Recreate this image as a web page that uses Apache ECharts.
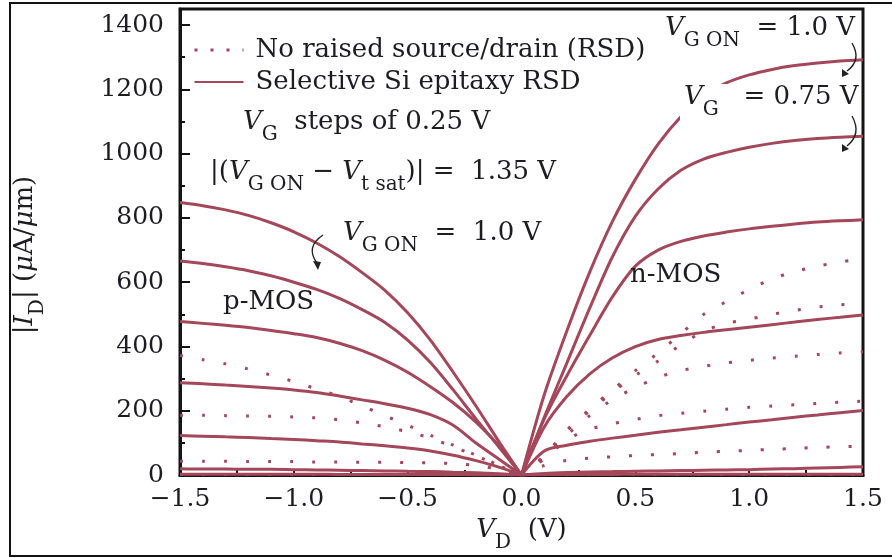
<!DOCTYPE html>
<html>
<head>
<meta charset="utf-8">
<script src="https://cdn.jsdelivr.net/npm/echarts@6/dist/echarts.min.js"></script>
<style>
  html, body { margin: 0; padding: 0; background: #fff; }
  #chart { width: 892px; height: 558px; }
</style>
</head>
<body>
<div id="chart"></div>
<script>
// Drain voltage samples (V)
const VD_P = [-1.5, -1.4, -1.3, -1.2, -1.1, -1.0, -0.9, -0.8, -0.7, -0.6, -0.5, -0.4, -0.3, -0.2, -0.1, 0];
const VD_N = [0, 0.1, 0.2, 0.3, 0.4, 0.5, 0.6, 0.7, 0.8, 0.9, 1.0, 1.1, 1.2, 1.3, 1.4, 1.5];

// |ID| (uA/um), p-MOS, selective Si epitaxy RSD, VG from ON downward in 0.25 V steps
const P_RSD_1 = [848, 838, 825, 808, 785, 757, 722, 680, 630, 575, 505, 420, 320, 215, 105, 0];
const P_RSD_2 = [666, 658, 648, 636, 620, 600, 578, 550, 515, 475, 420, 350, 265, 175, 88, 0];
const P_RSD_3 = [478, 472, 466, 459, 450, 440, 428, 410, 387, 357, 320, 275, 225, 165, 92, 0];
const P_RSD_4 = [287, 284, 280, 276, 271, 265, 257, 246, 234, 222, 208, 188, 155, 100, 50, 0];
const P_RSD_5 = [123, 121, 119, 117, 114, 111, 107, 103, 97, 91, 84, 75, 62, 45, 25, 0];
const P_RSD_6 = [20, 19, 19, 18, 18, 17, 16, 15, 14, 13, 12, 11, 9, 7, 4, 0];
const P_RSD_7 = [3, 3, 3, 3, 3, 3, 3, 2, 2, 2, 2, 2, 2, 1, 1, 0];

// p-MOS, no raised source/drain
const P_NO_1 = [372, 359, 346, 330, 311, 291, 268, 245, 215, 185, 155, 124, 93, 62, 31, 0];
const P_NO_2 = [186, 186, 185, 184, 183, 181, 178, 172, 162, 150, 135, 115, 88, 60, 30, 0];
const P_NO_3 = [43, 43, 43, 42, 42, 42, 41, 41, 40, 40, 39, 38, 36, 30, 18, 0];
const P_NO_4 = [2, 2, 2, 2, 2, 2, 2, 2, 2, 2, 2, 2, 1, 1, 1, 0];

// n-MOS, selective Si epitaxy RSD
const N_RSD_1 = [0, 250, 450, 632, 790, 920, 1030, 1115, 1180, 1220, 1245, 1262, 1274, 1282, 1288, 1292];
const N_RSD_2 = [0, 180, 350, 520, 680, 805, 890, 948, 983, 1004, 1020, 1032, 1041, 1047, 1051, 1054];
const N_RSD_3 = [0, 175, 310, 435, 555, 650, 700, 727, 744, 756, 766, 774, 781, 787, 791, 794];
const N_RSD_4 = [0, 150, 245, 315, 365, 400, 422, 434, 444, 452, 460, 468, 476, 484, 491, 498];
const N_RSD_5 = [0, 75, 93, 105, 115, 124, 133, 141, 149, 157, 165, 172, 180, 187, 194, 201];
const N_RSD_6 = [0, 5, 8, 10, 11, 12, 13, 14, 15, 16, 17, 19, 20, 22, 24, 26];
const N_RSD_7 = [0, 2, 2, 2, 2, 3, 3, 3, 3, 3, 3, 3, 3, 3, 3, 3];

// n-MOS, no raised source/drain
const N_NO_1 = [0, 60, 140, 205, 265, 325, 380, 440, 500, 540, 577, 610, 633, 650, 663, 674];
const N_NO_2 = [0, 60, 138, 200, 258, 310, 355, 405, 447, 472, 485, 500, 512, 523, 530, 535];
const N_NO_3 = [0, 55, 125, 185, 235, 272, 304, 325, 338, 349, 357, 364, 370, 375, 380, 384];
const N_NO_4 = [0, 50, 110, 143, 160, 173, 185, 192, 199, 205, 211, 215, 219, 223, 227, 230];
const N_NO_5 = [0, 30, 46, 53, 57, 61, 64, 67, 71, 74, 77, 80, 83, 86, 88, 90];
const N_NO_6 = [0, 1, 1, 1, 1, 2, 2, 2, 2, 2, 2, 2, 2, 2, 2, 2];

// Axis ticks
const X_TICKS = [-1.5, -1.0, -0.5, 0.0, 0.5, 1.0, 1.5];
const Y_TICKS = [0, 200, 400, 600, 800, 1000, 1200, 1400];
const Y_MINOR = [100, 300, 500, 700, 900, 1100, 1300];
const Y_MAX = 1450;

const NAME_NO = 'No raised source/drain (RSD)';
const NAME_RSD = 'Selective Si epitaxy RSD';

const FONT = 'DejaVu Serif';
const TXT = '#1c1c22';
const AX = '#141414';
const RED = '#a4475a';

function curve(name, xs, ys, dotted) {
  return {
    type: 'line',
    name: name,
    data: xs.map((x, i) => [x, ys[i]]),
    symbol: 'none',
    showSymbol: false,
    smooth: 0.3,
    silent: true,
    animation: false,
    z: dotted ? 2 : 3,
    itemStyle: { color: RED },
    lineStyle: dotted
      ? { color: RED, width: 3, type: [3, 19] }
      : { color: RED, width: 3, type: 'solid' }
  };
}

const series = [
  curve(NAME_NO, VD_P, P_NO_1, true),
  curve(NAME_NO, VD_P, P_NO_2, true),
  curve(NAME_NO, VD_P, P_NO_3, true),
  curve(NAME_NO, VD_P, P_NO_4, true),
  curve(NAME_NO, VD_N, N_NO_1, true),
  curve(NAME_NO, VD_N, N_NO_2, true),
  curve(NAME_NO, VD_N, N_NO_3, true),
  curve(NAME_NO, VD_N, N_NO_4, true),
  curve(NAME_NO, VD_N, N_NO_5, true),
  curve(NAME_NO, VD_N, N_NO_6, true),
  curve(NAME_RSD, VD_P, P_RSD_1, false),
  curve(NAME_RSD, VD_P, P_RSD_2, false),
  curve(NAME_RSD, VD_P, P_RSD_3, false),
  curve(NAME_RSD, VD_P, P_RSD_4, false),
  curve(NAME_RSD, VD_P, P_RSD_5, false),
  curve(NAME_RSD, VD_P, P_RSD_6, false),
  curve(NAME_RSD, VD_P, P_RSD_7, false),
  curve(NAME_RSD, VD_N, N_RSD_1, false),
  curve(NAME_RSD, VD_N, N_RSD_2, false),
  curve(NAME_RSD, VD_N, N_RSD_3, false),
  curve(NAME_RSD, VD_N, N_RSD_4, false),
  curve(NAME_RSD, VD_N, N_RSD_5, false),
  curve(NAME_RSD, VD_N, N_RSD_6, false),
  curve(NAME_RSD, VD_N, N_RSD_7, false)
];

// rich text styles for annotations (italic symbol, upright subscript)
const RICH = {
  n: { fontFamily: FONT, fontSize: 26, lineHeight: 36, verticalAlign: 'top', fill: TXT },
  i: { fontFamily: FONT, fontSize: 26, lineHeight: 36, verticalAlign: 'top', fontStyle: 'italic', fill: TXT },
  s: { fontFamily: FONT, fontSize: 20, lineHeight: 18, verticalAlign: 'bottom', fill: TXT }
};

function note(text, x, cy, extra) {
  return {
    type: 'text',
    x: x,
    y: cy - 18,
    z: 60,
    silent: true,
    style: Object.assign({
      text: text,
      rich: RICH,
      fontFamily: FONT,
      fontSize: 26,
      fill: TXT,
      verticalAlign: 'top'
    }, extra || {})
  };
}

function arrow(x1, y1, cx, cy, x2, y2, tip, b1, b2) {
  return [
    { type: 'bezierCurve', z: 60, silent: true,
      shape: { x1: x1, y1: y1, cpx1: cx, cpy1: cy, x2: x2, y2: y2 },
      style: { stroke: '#222', lineWidth: 1.4, fill: null } },
    { type: 'polygon', z: 60, silent: true,
      shape: { points: [tip, b1, b2] },
      style: { fill: '#222' } }
  ];
}

const graphics = [
  { type: 'rect', z: 0, silent: true,
    shape: { x: 10, y: 3, width: 900, height: 553 },
    style: { fill: null, stroke: '#111', lineWidth: 2 } },
  note('{i|V}{s|G}{n|  steps of 0.25 V}', 243, 127),
  note('{n||(}{i|V}{s|G ON}{n| \u2212 }{i|V}{s|t sat}{n|)| =  1.35 V}', 210, 177),
  note('{i|V}{s|G ON}{n|  =  1.0 V}', 343, 238),
  note('{n|p-MOS}', 223, 307),
  note('{n|n-MOS}', 630, 280),
  note('{i|V}{s|G ON}{n|  = 1.0 V}', 665, 33),
  note('{i|V}{s|G}{n|   = 0.75 V}', 680, 102, { backgroundColor: '#fff', padding: [0, 2, 0, 4] }),
  // y-axis title
  { type: 'text', z: 60, silent: true, x: 30, y: 255, rotation: Math.PI / 2,
    style: {
      text: '{n||}{i|I}{s|D}{n|| (}{i|\u03bc}{n|A/}{i|\u03bc}{n|m)}',
      rich: RICH, fontFamily: FONT, fontSize: 26, fill: TXT,
      align: 'center', verticalAlign: 'middle'
    } }
]
  .concat(arrow(323, 235, 305, 247, 317, 263, [318, 270], [313, 261], [321, 262]))
  .concat(arrow(852, 43, 862, 60, 847, 71, [842, 77], [842, 69], [849, 74]))
  .concat(arrow(852, 116, 862, 134, 847, 146, [842, 152], [842, 144], [849, 149]));

const chart = echarts.init(document.getElementById('chart'), null, { renderer: 'canvas' });

chart.setOption({
  animation: false,
  backgroundColor: '#fff',
  grid: {
    left: 180, right: 29, top: 9, bottom: 81,
    show: true, borderColor: AX, borderWidth: 3, backgroundColor: 'transparent'
  },
  legend: {
    orient: 'vertical',
    left: 188, top: 30,
    itemWidth: 49, itemHeight: 14, itemGap: 2,
    selectedMode: false,
    itemStyle: { opacity: 0, borderWidth: 0 },
    textStyle: { fontFamily: FONT, fontSize: 26, color: TXT, lineHeight: 30, padding: [0, 0, 0, 7] },
    data: [
      { name: NAME_NO, lineStyle: { type: [3, 13], width: 3 } },
      { name: NAME_RSD }
    ]
  },
  xAxis: {
    type: 'value',
    min: -1.5, max: 1.5, interval: 0.5,
    axisLine: { show: true, onZero: false, lineStyle: { color: AX, width: 3 } },
    axisTick: { show: true, inside: true, length: 5, lineStyle: { color: AX, width: 2 }, customValues: X_TICKS },
    minorTick: { show: true, splitNumber: 2, length: 5, lineStyle: { color: AX, width: 2 } },
    axisLabel: {
      customValues: X_TICKS,
      fontFamily: FONT, fontSize: 25, color: TXT, margin: 12,
      formatter: v => (v < 0 ? '\u2212' : '') + Math.abs(v).toFixed(1)
    },
    splitLine: { show: false },
    name: '{i|V}{s|D}{n|  (V)}',
    nameLocation: 'middle',
    nameGap: 35,
    nameTextStyle: { rich: {
      n: { fontFamily: FONT, fontSize: 26, lineHeight: 36, verticalAlign: 'top', color: TXT },
      i: { fontFamily: FONT, fontSize: 26, lineHeight: 36, verticalAlign: 'top', fontStyle: 'italic', color: TXT },
      s: { fontFamily: FONT, fontSize: 20, lineHeight: 18, verticalAlign: 'bottom', color: TXT }
    } }
  },
  yAxis: [
    {
      type: 'value', min: 0, max: Y_MAX,
      axisLine: { show: true, onZero: false, lineStyle: { color: AX, width: 3 } },
      axisTick: { show: true, inside: true, length: 10, lineStyle: { color: AX, width: 2 }, customValues: Y_TICKS },
      axisLabel: { customValues: Y_TICKS, fontFamily: FONT, fontSize: 25, color: TXT, margin: 16,
        formatter: v => String(v) },
      splitLine: { show: false }
    },
    {
      type: 'value', min: 0, max: Y_MAX, position: 'left',
      axisLine: { show: false, onZero: false },
      axisTick: { show: true, inside: true, length: 5, lineStyle: { color: AX, width: 2 }, customValues: Y_MINOR },
      axisLabel: { show: false },
      splitLine: { show: false }
    }
  ],
  graphic: graphics,
  series: series
});
</script>
</body>
</html>
